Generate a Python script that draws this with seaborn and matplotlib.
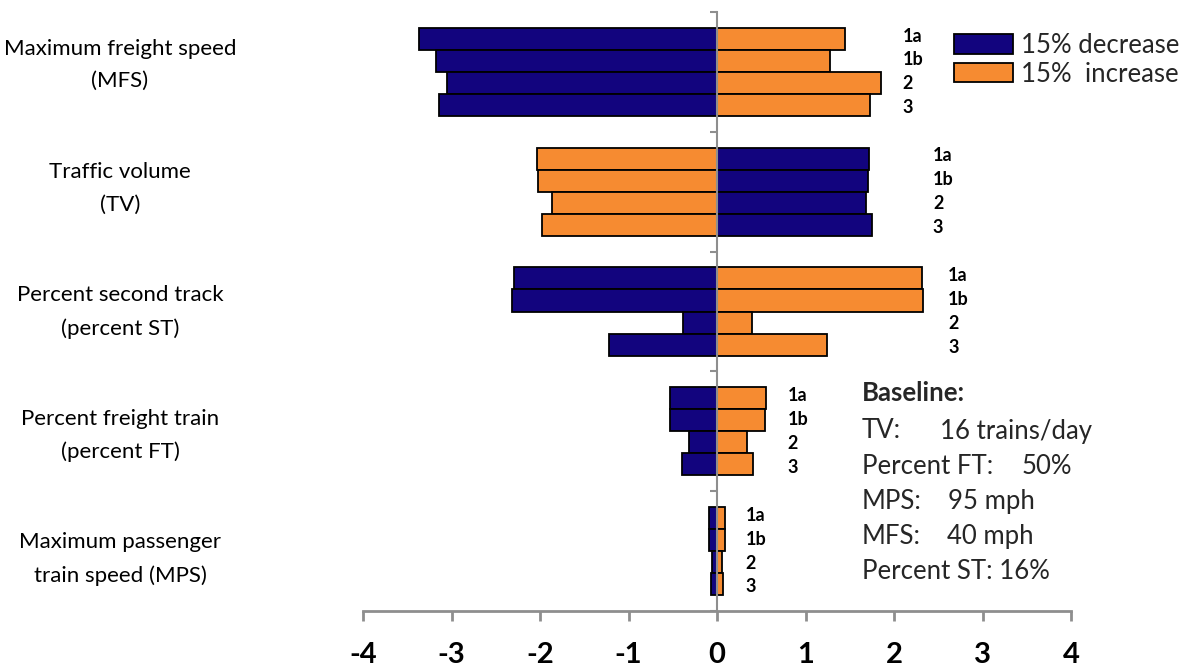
import numpy as np
import pandas as pd
import matplotlib
matplotlib.use("Agg")
import matplotlib.pyplot as plt
import seaborn as sns
from matplotlib.patches import Patch

# ---- data: change in output for a 15% change of each input, per scenario ----
factors = ["MFS", "TV", "ST", "FT", "MPS"]
factor_labels = [
    "Maximum freight speed\n(MFS)",
    "Traffic volume\n(TV)",
    "Percent second track\n(percent ST)",
    "Percent freight train\n(percent FT)",
    "Maximum passenger\ntrain speed (MPS)",
]
scenarios = ["1a", "1b", "2", "3"]

decrease_mfs = [-3.37, -3.18, -3.05, -3.14]
increase_mfs = [1.45, 1.28, 1.85, 1.73]
decrease_tv = [1.72, 1.71, 1.68, 1.75]
increase_tv = [-2.03, -2.02, -1.87, -1.98]
decrease_st = [-2.29, -2.32, -0.38, -1.22]
increase_st = [2.32, 2.33, 0.40, 1.24]
decrease_ft = [-0.53, -0.53, -0.32, -0.39]
increase_ft = [0.55, 0.54, 0.34, 0.41]
decrease_mps = [-0.09, -0.09, -0.06, -0.07]
increase_mps = [0.09, 0.09, 0.06, 0.07]

x_ticks = [-4, -3, -2, -1, 0, 1, 2, 3, 4]
legend_labels = ["15% decrease", "15%  increase"]
baseline_title = "Baseline:"
baseline_keys = ["TV:", "Percent FT:", "MPS:", "MFS:", "Percent ST:"]
baseline_vals = ["16 trains/day", "50%", "95 mph", "40 mph", "16%"]

df = pd.DataFrame({
    "factor": np.repeat(factors, len(scenarios)),
    "scenario": scenarios * len(factors),
    "decrease": decrease_mfs + decrease_tv + decrease_st + decrease_ft + decrease_mps,
    "increase": increase_mfs + increase_tv + increase_st + increase_ft + increase_mps,
})

# ---- style ----
NAVY = "#12047E"
ORANGE = "#F68B31"
AXIS_GRAY = "#8E8E8E"
sns.set_theme(style="white")
plt.rcParams["font.family"] = ["Lato", "DejaVu Sans"]

W, H = 1193, 667
fig = plt.figure(figsize=(W / 100, H / 100), dpi=100)
ax = fig.add_axes([363 / W, (H - 611) / H, (1071 - 363) / W, (611 - 12) / H])

group_width = 0.736
for col, color in [("decrease", NAVY), ("increase", ORANGE)]:
    sns.barplot(
        data=df, x=col, y="factor", hue="scenario",
        order=factors, hue_order=scenarios,
        palette={s: color for s in scenarios},
        orient="h", width=group_width, dodge=True,
        edgecolor="black", linewidth=1.3, saturation=1,
        errorbar=None, legend=False, ax=ax,
    )

ax.set_xlim(-4, 4)
ax.set_ylim(len(factors) - 0.5, -0.5)
ax.set_xlabel("")
ax.set_ylabel("")
ax.set_xticks(x_ticks)
ax.set_xticklabels([str(t) for t in x_ticks], fontsize=21, fontweight="bold")
ax.set_yticks(np.arange(-0.5, len(factors), 1.0))
ax.set_yticklabels([])

for side in ("top", "right"):
    ax.spines[side].set_visible(False)
ax.spines["left"].set_position(("data", 0))
ax.spines["left"].set_color(AXIS_GRAY)
ax.spines["left"].set_linewidth(1.5)
ax.spines["bottom"].set_color(AXIS_GRAY)
ax.spines["bottom"].set_linewidth(2)
ax.tick_params(axis="x", direction="out", length=7.5, width=2, color=AXIS_GRAY,
               pad=15, bottom=True, labelcolor="black")
ax.tick_params(axis="y", direction="out", length=5, width=1.5, color=AXIS_GRAY,
               left=True)

# scenario labels beside each group
bar_h = group_width / len(scenarios)
label_x = [2.10, 2.44, 2.61, 0.80, 0.32]
for g, lx in enumerate(label_x):
    for j, s in enumerate(scenarios):
        yy = g + (j - 1.5) * bar_h * 1.08
        ax.text(lx, yy, s, ha="left", va="center", fontsize=13,
                fontweight="bold", color="black")

# factor names to the left of the chart
for g, lab in enumerate(factor_labels):
    ypx = 312 + (g - 2) * 123.6
    fig.text(120 / W, 1 - ypx / H, lab, ha="center", va="center",
             fontsize=16, linespacing=1.78, color="black")

# legend
handles = [Patch(facecolor=NAVY, edgecolor="black", linewidth=1.3),
           Patch(facecolor=ORANGE, edgecolor="black", linewidth=1.3)]
fig.legend(handles, legend_labels, loc="upper left",
           bbox_to_anchor=(954 / W, 1 - 33 / H), bbox_transform=fig.transFigure,
           frameon=False, fontsize=18.5, handlelength=2.3, handleheight=0.8,
           handletextpad=0.3, labelspacing=0.14, borderpad=0, borderaxespad=0)

# baseline box
BFS = 18.5
fig.text(862 / W, 1 - 393 / H, baseline_title, ha="left", va="center",
         fontsize=BFS, fontweight="bold")
val_x = [940, 1022, 948, 947, 1000]
for i, (k, v) in enumerate(zip(baseline_keys, baseline_vals)):
    yy = 1 - (431 + 35.1 * i) / H
    if k == "Percent ST:":
        fig.text(862 / W, yy, f"{k} {v}", ha="left", va="center", fontsize=BFS)
    else:
        fig.text(862 / W, yy, k, ha="left", va="center", fontsize=BFS)
        fig.text(val_x[i] / W, yy, v, ha="left", va="center", fontsize=BFS)

fig.savefig("out.png", dpi=100)
